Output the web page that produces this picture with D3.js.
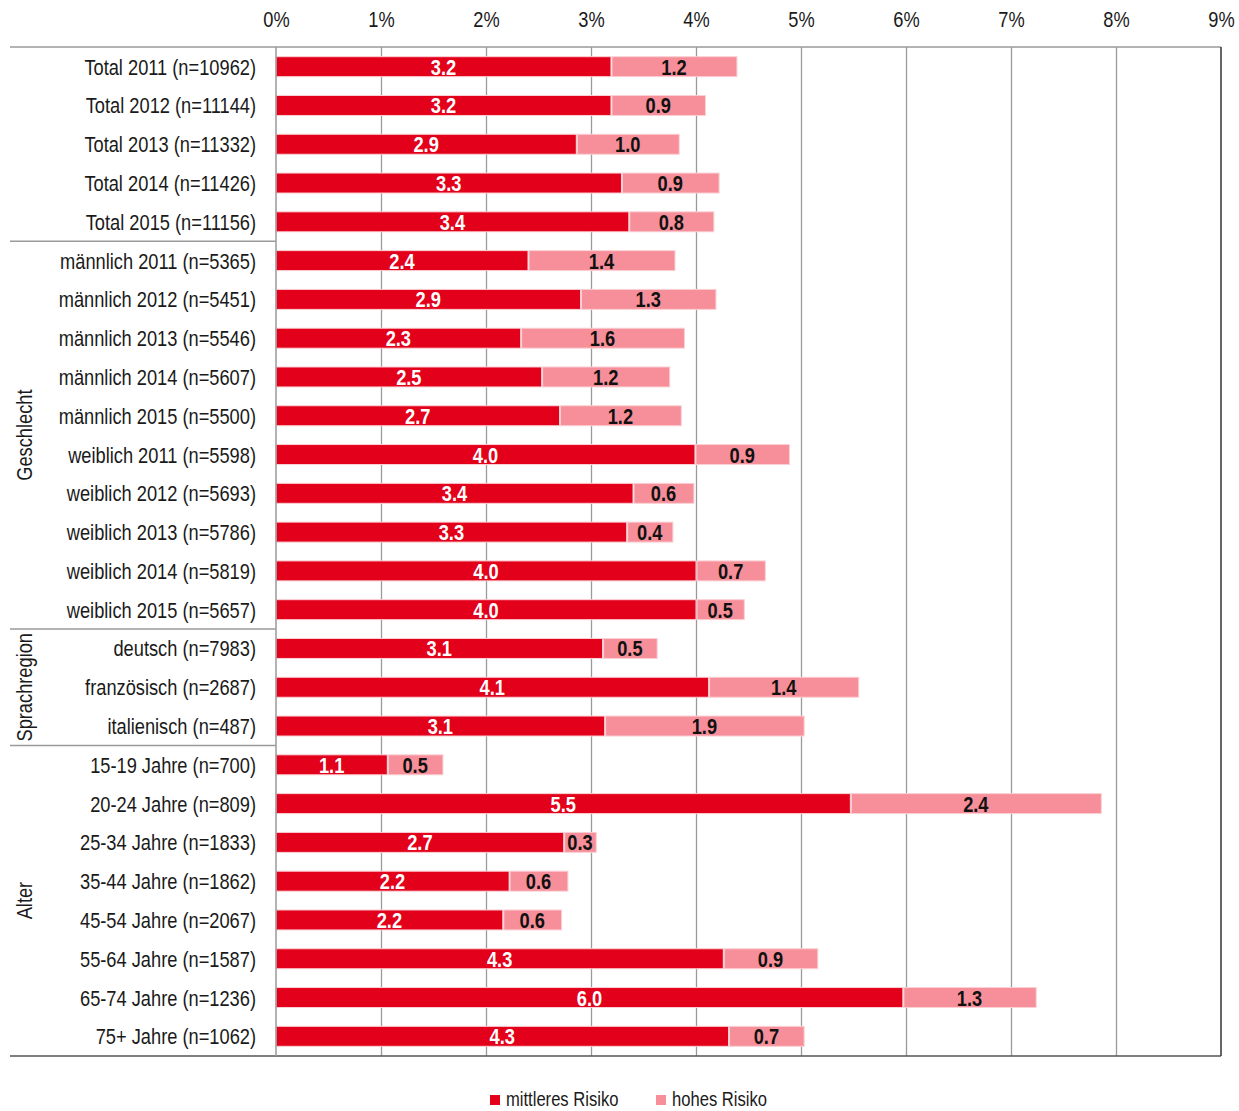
<!DOCTYPE html>
<html>
<head>
<meta charset="utf-8">
<script src="https://cdn.jsdelivr.net/npm/d3@7"></script>
<style>
  body { margin: 0; background: #fff; }
  svg text { font-family: "Liberation Sans", Arial, sans-serif; fill: #1a1a1a; }
</style>
</head>
<body>
<div id="chart"></div>
<script>
// categories (top to bottom)
var categories = [
  "Total 2011 (n=10962)", "Total 2012 (n=11144)", "Total 2013 (n=11332)", "Total 2014 (n=11426)", "Total 2015 (n=11156)",
  "männlich 2011 (n=5365)", "männlich 2012 (n=5451)", "männlich 2013 (n=5546)", "männlich 2014 (n=5607)", "männlich 2015 (n=5500)",
  "weiblich 2011 (n=5598)", "weiblich 2012 (n=5693)", "weiblich 2013 (n=5786)", "weiblich 2014 (n=5819)", "weiblich 2015 (n=5657)",
  "deutsch (n=7983)", "französisch (n=2687)", "italienisch (n=487)",
  "15-19 Jahre (n=700)", "20-24 Jahre (n=809)", "25-34 Jahre (n=1833)", "35-44 Jahre (n=1862)",
  "45-54 Jahre (n=2067)", "55-64 Jahre (n=1587)", "65-74 Jahre (n=1236)", "75+ Jahre (n=1062)"
];
// mittleres Risiko (%)
var mittel = [3.19, 3.19, 2.86, 3.29, 3.36, 2.40, 2.90, 2.33, 2.53, 2.70,
              3.99, 3.40, 3.34, 4.00, 4.00, 3.11, 4.12, 3.13,
              1.06, 5.47, 2.74, 2.22, 2.16, 4.26, 5.97, 4.31];
// hohes Risiko (%)
var hoch = [1.20, 0.90, 0.98, 0.93, 0.81, 1.40, 1.29, 1.56, 1.22, 1.16,
            0.90, 0.58, 0.44, 0.66, 0.46, 0.52, 1.43, 1.90,
            0.53, 2.39, 0.31, 0.56, 0.56, 0.90, 1.27, 0.72];
// groups: [label, first category, last category]
var groups = [
  ["", 0, 4],
  ["Geschlecht", 5, 14],
  ["Sprachregion", 15, 17],
  ["Alter", 18, 25]
];
var xTicks = [0, 1, 2, 3, 4, 5, 6, 7, 8, 9];
var seriesNames = ["mittleres Risiko", "hohes Risiko"];
var colors = ["#e2001a", "#f68f99"];

var W = 1239, H = 1111;
var mLeft = 276, mRight = 1221, mTop = 47, mBottom = 1056;
var fs = "22px", sx = 0.83;   // narrow look

var svg = d3.select("#chart").append("svg")
    .attr("width", W).attr("height", H);

// put a text at (tx,ty) squeezed horizontally
function narrowText(parent, tx, ty, rot) {
  return parent.append("text")
      .attr("transform", "translate(" + tx + "," + ty + ")" + (rot ? " rotate(" + rot + ")" : "") + " scale(" + sx + ",1)")
      .style("font-size", fs);
}

var x = d3.scaleLinear().domain([0, 9]).range([mLeft, mRight]);
var y = d3.scaleBand().domain(categories).range([mTop, mBottom])
    .paddingInner(0.485).paddingOuter(0.25);
var step = y.step();

// gridlines
svg.append("g")
    .attr("transform", "translate(0," + mTop + ")")
    .call(d3.axisBottom(x).tickValues(xTicks.slice(1, 9)).tickSize(mBottom - mTop).tickFormat(""))
    .call(function(g) {
      g.select(".domain").remove();
      g.selectAll("line").attr("stroke", "#9a9a9a").attr("stroke-width", 1.3);
    });

// tick labels on top
svg.append("g")
    .attr("transform", "translate(0,27)")
    .call(d3.axisTop(x).tickValues(xTicks).tickSize(0).tickPadding(0).tickFormat(function(d) { return d + "%"; }))
    .call(function(g) {
      g.select(".domain").remove();
      g.selectAll("text").attr("y", 0).attr("dy", null)
          .attr("transform", "scale(" + sx + ",1)")
          .style("font-size", fs).attr("fill", "#1a1a1a");
    });

// bars
var stackData = categories.map(function(c, i) { return { cat: c, vals: [mittel[i], hoch[i]] }; });
var row = svg.selectAll(".row").data(stackData).enter().append("g").attr("class", "row");

function segs(d) {
  return d.vals.map(function(v, k) {
    var x0 = k === 0 ? 0 : d.vals[0];
    return { cat: d.cat, k: k, x0: x0, x1: x0 + v, v: v };
  });
}

row.selectAll("rect")
    .data(segs)
  .enter().append("rect")
    .attr("x", function(d) { return x(d.x0) + (d.k ? 1 : 0); })
    .attr("y", function(d) { return y(d.cat); })
    .attr("width", function(d) { return x(d.x1) - x(d.x0) - (d.k ? 1 : 0); })
    .attr("height", y.bandwidth())
    .attr("fill", function(d) { return colors[d.k]; })
    .attr("stroke", "#fbd0d5").attr("stroke-width", 1);

row.each(function(d) {
  var g = d3.select(this);
  segs(d).forEach(function(s) {
    narrowText(g, (x(s.x0) + x(s.x1)) / 2, y(s.cat) + y.bandwidth() / 2 + 8)
        .attr("text-anchor", "middle")
        .style("font-weight", "bold")
        .style("fill", s.k === 0 ? "#fff" : "#111")
        .text(d3.format(".1f")(s.v));
  });
});

// category labels
var catG = svg.append("g");
categories.forEach(function(c) {
  narrowText(catG, mLeft - 20, y(c) + y.bandwidth() / 2 + 8)
      .attr("text-anchor", "end")
      .text(c);
});

// frame
svg.append("line").attr("x1", 10).attr("x2", mRight).attr("y1", mTop).attr("y2", mTop)
    .attr("stroke", "#9a9a9a").attr("stroke-width", 1.5);
svg.append("line").attr("x1", 10).attr("x2", mRight).attr("y1", mBottom).attr("y2", mBottom)
    .attr("stroke", "#555").attr("stroke-width", 1.5);
svg.append("line").attr("x1", mLeft).attr("x2", mLeft).attr("y1", mTop).attr("y2", mBottom)
    .attr("stroke", "#9a9a9a").attr("stroke-width", 1.5);
svg.append("line").attr("x1", mRight).attr("x2", mRight).attr("y1", mTop).attr("y2", mBottom)
    .attr("stroke", "#333").attr("stroke-width", 1.5);

// group separators and labels
groups.forEach(function(g, i) {
  var y0 = y(categories[g[1]]) - step * y.paddingInner() / 2;
  var y1 = y(categories[g[2]]) + y.bandwidth() + step * y.paddingInner() / 2;
  if (i > 0) {
    svg.append("line").attr("x1", 10).attr("x2", mLeft).attr("y1", y0).attr("y2", y0)
        .attr("stroke", "#9a9a9a").attr("stroke-width", 1.5);
  }
  if (g[0]) {
    svg.append("text")
        .attr("transform", "translate(32," + ((y0 + y1) / 2) + ") rotate(-90) scale(" + sx + ",1)")
        .attr("text-anchor", "middle")
        .style("font-size", fs)
        .text(g[0]);
  }
});

// legend
var legend = svg.append("g").attr("transform", "translate(490,1100)");
var lx = [0, 166];
seriesNames.forEach(function(n, k) {
  legend.append("rect").attr("x", lx[k]).attr("y", -5).attr("width", 10).attr("height", 10)
      .attr("fill", colors[k]);
  legend.append("text")
      .attr("transform", "translate(" + (lx[k] + 16) + ",6) scale(" + sx + ",1)")
      .style("font-size", "20px")
      .text(n);
});
</script>
</body>
</html>
